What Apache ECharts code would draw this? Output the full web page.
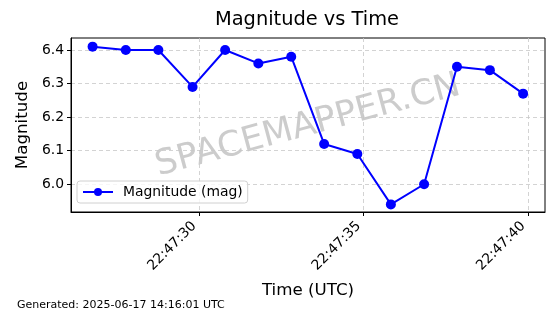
<!DOCTYPE html>
<html><head><meta charset="utf-8">
<script src="https://cdn.jsdelivr.net/npm/echarts@6/dist/echarts.min.js"></script>
<style>html,body{margin:0;padding:0;background:#fff}#c{width:560px;height:314px}</style>
</head><body><div id="c"></div>
<script>
const times = ["22:47:26.76","22:47:27.77","22:47:28.76","22:47:29.80","22:47:30.79","22:47:31.80","22:47:32.80","22:47:33.80","22:47:34.81","22:47:35.83","22:47:36.84","22:47:37.84","22:47:38.84","22:47:39.85"];
const magnitudes = [6.41,6.40,6.40,6.29,6.40,6.36,6.38,6.12,6.09,5.94,6.00,6.35,6.34,6.27];
const xTicks = [30,35,40];   // seconds after 22:47:00
const yTicks = [6.0,6.1,6.2,6.3,6.4];
const titleText = "Magnitude vs Time";
const footer = "Generated: 2025-06-17 14:16:01 UTC";

function toSec(t){const p=t.split(':');return (+p[1]-47)*60+parseFloat(p[2]);}
const data = times.map((t,i)=>[toSec(t),magnitudes[i]]);
const font = "DejaVu Sans";
const chart = echarts.init(document.getElementById('c'),null,{renderer:'canvas'});
chart.setOption({
  animation:false,
  textStyle:{fontFamily:font},
  title:{text:titleText,left:307,textAlign:'center',top:10,padding:0,textStyle:{fontFamily:font,fontSize:19.4,fontWeight:'normal',color:'#000'}},
  grid:{left:71,right:15,top:38,bottom:102,show:true,borderColor:'#000',borderWidth:1,containLabel:false},
  legend:{left:77,top:181,padding:[4,5,4,5],itemGap:0,itemWidth:30,itemHeight:10,borderColor:'#d0d0d0',borderWidth:1,borderRadius:3,backgroundColor:'rgba(255,255,255,0.8)',textStyle:{fontFamily:font,fontSize:13.9,color:'#000',padding:[0,0,0,5]}},
  graphic:[
    {type:'text',z:0,x:308,y:126,rotation:15*Math.PI/180,style:{text:'SPACEMAPPER.CN',font:'35px "DejaVu Sans"',fill:'rgba(128,128,128,0.4)',textAlign:'center',textVerticalAlign:'middle'}},
    {type:'text',left:17,top:300,style:{text:footer,font:'11px "DejaVu Sans"',fill:'#000'}}
  ],
  xAxis:{type:'value',min:26.104,max:40.516,
    name:'Time (UTC)',nameLocation:'middle',nameGap:70,nameTextStyle:{fontFamily:font,fontSize:16.7,color:'#000'},
    axisLine:{show:true,lineStyle:{color:'#000',width:1}},
    axisTick:{show:true,length:4,lineStyle:{color:'#000'},customValues:xTicks},
    axisLabel:{rotate:45,margin:17,verticalAlign:'bottom',fontFamily:font,fontSize:13.9,color:'#000',customValues:xTicks,
      formatter:v=>'22:47:'+String(Math.round(v)).padStart(2,'0')},
    splitLine:{show:true,lineStyle:{color:'#c8c8c8',type:[4,3],width:0.8}}},
  yAxis:{type:'value',min:5.9173,max:6.4358,
    name:'Magnitude',nameLocation:'middle',nameGap:38,nameTextStyle:{fontFamily:font,fontSize:16.7,color:'#000'},
    axisLine:{show:true,lineStyle:{color:'#000',width:1}},
    axisTick:{show:true,length:4,lineStyle:{color:'#000'},customValues:yTicks},
    axisLabel:{margin:7,fontFamily:font,fontSize:13.9,color:'#000',customValues:yTicks,formatter:v=>v.toFixed(1)},
    splitLine:{show:true,lineStyle:{color:'#c8c8c8',type:[4,3],width:0.8}}},
  series:[{name:'Magnitude (mag)',type:'line',data:data,symbol:'circle',symbolSize:10,
    itemStyle:{color:'#0000ff'},lineStyle:{color:'#0000ff',width:2},z:5}]
});
</script></body></html>
